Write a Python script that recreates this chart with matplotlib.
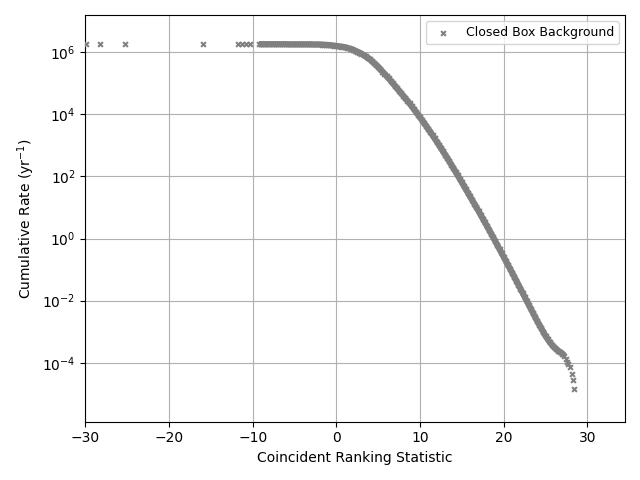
import numpy as np
import matplotlib
matplotlib.use('Agg')
import matplotlib.pyplot as plt
from matplotlib.ticker import NullLocator

# isolated loud-background points on the flat part (ranking stat, log10 rate)
outlier_stat = [-29.9, -28.3, -25.3, -16.0, -11.75, -11.25, -10.75, -10.3]
outlier_lograte = [6.26, 6.26, 6.26, 6.26, 6.26, 6.26, 6.26, 6.26]

# main background curve
stat = [-9.25, -9.0, -8.75, -8.5, -8.25, -8.0, -7.75, -7.5, -7.25, -7.0,
        -6.75, -6.5, -6.25, -6.0, -5.75, -5.5, -5.25, -5.0, -4.75, -4.5,
        -4.25, -4.0, -3.75, -3.5, -3.25, -3.0, -2.75, -2.5, -2.25, -2.0,
        -1.75, -1.5, -1.25, -1.0, -0.75, -0.5, -0.25, 0.0, 0.25, 0.5,
        0.75, 1.0, 1.25, 1.5, 1.75, 2.0, 2.25, 2.5, 2.75, 3.0,
        3.25, 3.5, 3.75, 4.0, 4.25, 4.5, 4.75, 5.0, 5.25, 5.5,
        5.75, 6.0, 6.25, 6.5, 6.75, 7.0, 7.25, 7.5, 7.75, 8.0,
        8.25, 8.5, 8.75, 9.0, 9.25, 9.5, 9.75, 10.0, 10.25, 10.5,
        10.75, 11.0, 11.25, 11.5, 11.75, 12.0, 12.25, 12.5, 12.75, 13.0,
        13.25, 13.5, 13.75, 14.0, 14.25, 14.5, 14.75, 15.0, 15.25, 15.5,
        15.75, 16.0, 16.25, 16.5, 16.75, 17.0, 17.25, 17.5, 17.75, 18.0,
        18.25, 18.5, 18.75, 19.0, 19.25, 19.5, 19.75, 20.0, 20.25, 20.5,
        20.75, 21.0, 21.25, 21.5, 21.75, 22.0, 22.25, 22.5, 22.75, 23.0,
        23.25, 23.5, 23.75, 24.0, 24.25, 24.5, 24.75, 25.0, 25.25, 25.5,
        25.75, 26.0, 26.25, 26.5, 26.75, 27.0, 27.25, 27.4, 27.55, 27.7,
        27.87, 28.14, 28.31, 28.43]
lograte = [6.26, 6.26, 6.26, 6.26, 6.26, 6.26, 6.26, 6.26, 6.26, 6.26,
           6.26, 6.26, 6.26, 6.26, 6.255, 6.255, 6.255, 6.255, 6.255, 6.255,
           6.255, 6.255, 6.255, 6.255, 6.255, 6.255, 6.25, 6.25, 6.25, 6.25,
           6.245, 6.245, 6.24, 6.235, 6.228, 6.22, 6.213, 6.205, 6.195, 6.185,
           6.175, 6.165, 6.145, 6.125, 6.105, 6.085, 6.05, 6.02, 5.99, 5.955,
           5.91, 5.865, 5.82, 5.775, 5.71, 5.65, 5.59, 5.525, 5.45, 5.38,
           5.31, 5.235, 5.16, 5.08, 5.00, 4.925, 4.845, 4.765, 4.685, 4.605,
           4.52, 4.435, 4.35, 4.265, 4.175, 4.085, 3.995, 3.905, 3.81, 3.715,
           3.62, 3.525, 3.425, 3.325, 3.225, 3.125, 3.02, 2.915, 2.81, 2.705,
           2.595, 2.485, 2.375, 2.265, 2.15, 2.04, 1.925, 1.815, 1.70, 1.585,
           1.47, 1.355, 1.24, 1.12, 1.005, 0.885, 0.765, 0.645, 0.525, 0.405,
           0.28, 0.16, 0.035, -0.085, -0.21, -0.335, -0.46, -0.585, -0.71, -0.84,
           -0.965, -1.095, -1.225, -1.355, -1.485, -1.615, -1.745, -1.875, -2.005, -2.135,
           -2.265, -2.395, -2.525, -2.655, -2.775, -2.895, -3.015, -3.135, -3.235, -3.335,
           -3.415, -3.495, -3.555, -3.615, -3.66, -3.705, -3.77, -3.88, -3.97, -4.05,
           -4.14, -4.35, -4.56, -4.85]

x = np.array(outlier_stat + stat)
y = 10 ** np.array(outlier_lograte + lograte)

# the dense part of the background merges into a solid band
n_dense = stat.index(27.4)
band_x = np.array(stat[:n_dense])
band_y = 10 ** np.array(lograte[:n_dense])

fig, ax = plt.subplots(figsize=(6.4, 4.8), dpi=100)
ax.plot(band_x, band_y, color='gray', linewidth=4.5, solid_capstyle='butt', zorder=2)
ax.scatter(x, y, marker='x', s=12, color='gray', label='Closed Box Background', zorder=3)
ax.set_yscale('log')
ax.set_xlim(-30, 34.5)
ax.set_ylim(10 ** -5.9, 10 ** 7.2)
ax.yaxis.set_minor_locator(NullLocator())
ax.grid(True)
ax.set_xlabel('Coincident Ranking Statistic')
ax.set_ylabel('Cumulative Rate (yr$^{-1}$)')
ax.legend(loc='upper right', fontsize=9)
fig.tight_layout()
fig.savefig('out.png')
